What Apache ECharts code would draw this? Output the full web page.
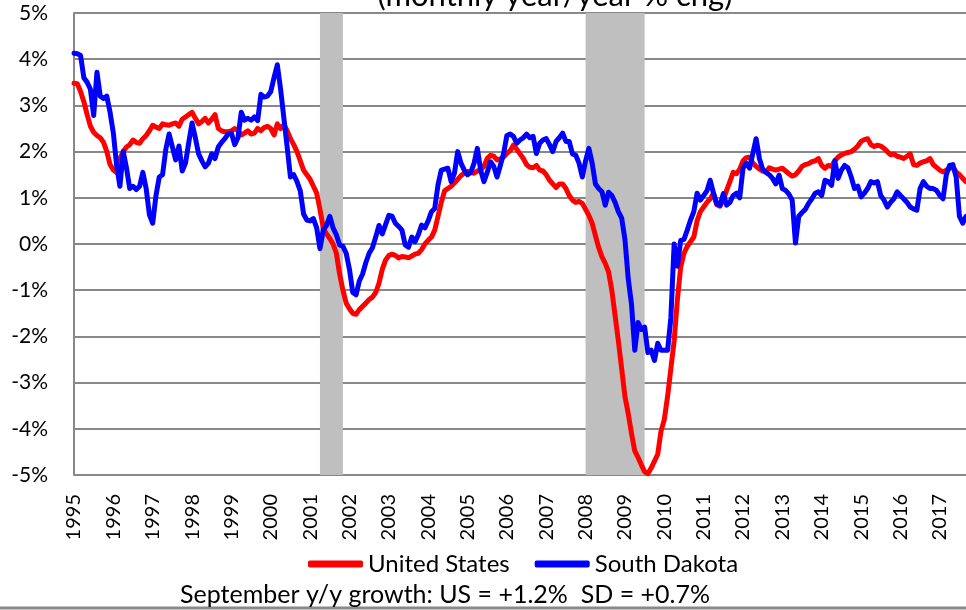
<!DOCTYPE html>
<html>
<head>
<meta charset="utf-8">
<script src="https://cdn.jsdelivr.net/npm/echarts@6/dist/echarts.min.js"></script>
<style>
  html, body { margin: 0; padding: 0; background: #ffffff; }
  #chart { width: 966px; height: 610px; }
</style>
</head>
<body>
<div id="chart"></div>
<script>
// monthly y/y % change, Jan 1995 .. Sep 2017
var startYear = 1995;
var usValues = [
  3.48, 3.47, 3.30, 3.08, 2.80, 2.55, 2.42, 2.35, 2.30, 2.20, 2.00, 1.72, // 1995
  1.60, 1.55, 1.85, 2.00, 2.10, 2.15, 2.25, 2.20, 2.18, 2.28, 2.35, 2.45, // 1996
  2.57, 2.53, 2.50, 2.60, 2.58, 2.57, 2.60, 2.62, 2.55, 2.70, 2.75, 2.80, // 1997
  2.85, 2.72, 2.60, 2.65, 2.72, 2.62, 2.70, 2.80, 2.50, 2.45, 2.43, 2.43, // 1998
  2.45, 2.50, 2.45, 2.36, 2.40, 2.45, 2.38, 2.40, 2.50, 2.45, 2.52, 2.55, // 1999
  2.50, 2.36, 2.60, 2.50, 2.58, 2.45, 2.28, 2.15, 2.00, 1.80, 1.60, 1.50, // 2000
  1.40, 1.25, 1.10, 0.75, 0.35, 0.22, 0.12, 0.00, -0.20, -0.65, -1.00, -1.28, // 2001
  -1.40, -1.50, -1.52, -1.42, -1.35, -1.28, -1.20, -1.15, -1.05, -0.85, -0.55, -0.35, // 2002
  -0.25, -0.22, -0.25, -0.30, -0.27, -0.28, -0.30, -0.26, -0.22, -0.20, -0.12, 0.00, // 2003
  0.08, 0.15, 0.30, 0.60, 0.90, 1.15, 1.20, 1.25, 1.32, 1.40, 1.48, 1.53, // 2004
  1.57, 1.55, 1.53, 1.58, 1.60, 1.68, 1.85, 1.92, 1.90, 1.82, 1.84, 1.88, // 2005
  1.96, 2.02, 2.14, 2.05, 1.95, 1.85, 1.72, 1.66, 1.65, 1.70, 1.60, 1.58, // 2006
  1.50, 1.38, 1.30, 1.22, 1.30, 1.30, 1.20, 1.05, 0.95, 0.90, 0.92, 0.88, // 2007
  0.75, 0.62, 0.45, 0.18, -0.08, -0.28, -0.42, -0.60, -1.00, -1.55, -2.10, -2.70, // 2008
  -3.30, -3.67, -4.10, -4.48, -4.62, -4.78, -4.93, -4.97, -4.85, -4.70, -4.55, -4.05, // 2009
  -3.80, -3.30, -2.70, -2.10, -1.20, -0.50, -0.20, -0.05, 0.05, 0.15, 0.50, 0.70, // 2010
  0.80, 0.90, 0.98, 1.10, 0.85, 0.82, 0.95, 1.16, 1.35, 1.55, 1.52, 1.62, // 2011
  1.80, 1.87, 1.88, 1.75, 1.68, 1.62, 1.58, 1.56, 1.65, 1.62, 1.60, 1.62, // 2012
  1.64, 1.58, 1.52, 1.47, 1.50, 1.58, 1.68, 1.72, 1.74, 1.78, 1.80, 1.85, // 2013
  1.70, 1.64, 1.70, 1.68, 1.80, 1.88, 1.93, 1.96, 1.98, 2.00, 2.05, 2.12, // 2014
  2.22, 2.26, 2.28, 2.15, 2.11, 2.14, 2.12, 2.07, 2.00, 1.93, 1.95, 1.90, // 2015
  1.88, 1.85, 1.90, 1.95, 1.72, 1.70, 1.75, 1.78, 1.80, 1.85, 1.72, 1.66, // 2016
  1.60, 1.56, 1.60, 1.64, 1.66, 1.56, 1.50, 1.42, 1.35                    // 2017
];
var sdValues = [
  4.13, 4.12, 4.08, 3.60, 3.50, 3.35, 2.78, 3.72, 3.20, 3.15, 3.20, 2.85, // 1995
  2.40, 1.70, 1.25, 2.00, 1.65, 1.20, 1.25, 1.18, 1.25, 1.55, 1.20, 0.63, // 1996
  0.45, 1.05, 1.45, 1.50, 2.05, 2.38, 2.10, 1.82, 2.12, 1.58, 1.75, 2.20, // 1997
  2.62, 2.30, 1.95, 1.80, 1.67, 1.75, 1.95, 1.85, 2.10, 2.20, 2.28, 2.38, // 1998
  2.40, 2.15, 2.30, 2.85, 2.68, 2.72, 2.68, 2.75, 2.67, 3.24, 3.18, 3.20, // 1999
  3.30, 3.60, 3.88, 3.35, 2.72, 2.10, 1.45, 1.50, 1.35, 1.15, 0.65, 0.52, // 2000
  0.50, 0.55, 0.35, -0.10, 0.30, 0.40, 0.60, 0.35, 0.20, -0.02, -0.05, -0.20, // 2001
  -0.55, -1.05, -1.10, -0.80, -0.65, -0.40, -0.20, -0.08, 0.15, 0.40, 0.22, 0.42, // 2002
  0.62, 0.60, 0.45, 0.38, 0.30, -0.02, -0.07, 0.15, 0.05, 0.20, 0.41, 0.35, // 2003
  0.50, 0.70, 0.77, 1.28, 1.60, 1.62, 1.64, 1.35, 1.53, 2.00, 1.75, 1.60, // 2004
  1.50, 1.55, 1.75, 2.07, 1.60, 1.35, 1.55, 1.78, 1.68, 1.45, 1.70, 1.96, // 2005
  2.35, 2.38, 2.33, 2.18, 2.25, 2.30, 2.38, 2.30, 2.33, 1.96, 2.18, 2.25, // 2006
  2.28, 2.15, 2.00, 2.22, 2.30, 2.40, 2.22, 2.22, 1.95, 1.92, 1.75, 1.45, // 2007
  1.80, 2.07, 1.75, 1.30, 1.20, 1.13, 0.84, 1.12, 1.05, 0.90, 0.70, 0.56, // 2008
  0.10, -0.75, -1.30, -2.30, -1.70, -1.85, -1.80, -2.35, -2.30, -2.52, -2.15, -2.30, // 2009
  -2.30, -2.30, -1.60, 0.00, -0.48, 0.08, 0.10, 0.30, 0.52, 0.70, 1.10, 0.95, // 2010
  1.05, 1.15, 1.38, 1.10, 0.87, 0.84, 1.09, 0.84, 0.90, 1.05, 1.10, 1.00, // 2011
  1.64, 1.75, 1.64, 1.96, 2.28, 1.85, 1.62, 1.55, 1.50, 1.42, 1.30, 1.49, // 2012
  1.20, 1.16, 1.08, 0.95, 0.02, 0.60, 0.68, 0.75, 0.88, 0.98, 1.10, 1.13, // 2013
  1.05, 1.38, 1.35, 1.27, 1.80, 1.42, 1.60, 1.70, 1.65, 1.45, 1.20, 1.25, // 2014
  1.02, 1.10, 1.20, 1.35, 1.32, 1.35, 1.05, 0.95, 0.80, 0.90, 0.98, 1.13, // 2015
  1.05, 0.98, 0.90, 0.80, 0.76, 0.73, 1.20, 1.35, 1.25, 1.20, 1.20, 1.16, // 2016
  1.05, 0.98, 1.50, 1.70, 1.72, 1.45, 0.60, 0.45, 0.60                    // 2017
];
// recession shading (first month, last month)
var recessions = [
  ['2001-04', '2001-11'],
  ['2008-01', '2009-07']
];
var seriesNames = ['United States', 'South Dakota'];
var titleText = '(monthly year/year % chg)';
var footText = 'September y/y growth: US = +1.2%  SD = +0.7%';

// month categories
var months = [];
for (var i = 0; i < usValues.length; i++) {
  var y = startYear + Math.floor(i / 12);
  var m = (i % 12) + 1;
  months.push(y + '-' + (m < 10 ? '0' + m : m));
}

var font = 'Lato, "Liberation Sans", sans-serif';
var myChart = echarts.init(document.getElementById('chart'));
var option = {
  backgroundColor: '#ffffff',
  animation: false,
  title: [
    {
      text: titleText,
      left: 550,
      textAlign: 'center',
      top: -25,
      textStyle: { fontFamily: font, fontWeight: 'normal', fontSize: 31, color: '#000' }
    },
    {
      text: footText,
      left: 175,
      top: 577,
      textStyle: { fontFamily: font, fontWeight: 'normal', fontSize: 25, color: '#000' }
    }
  ],
  legend: {
    left: 303,
    top: 547,
    icon: 'roundRect',
    itemWidth: 55,
    itemHeight: 7,
    itemGap: 25,
    textStyle: { fontFamily: font, fontSize: 24, color: '#000' },
    data: seriesNames
  },
  grid: { left: 74, right: 0, top: 13, bottom: 135 },
  xAxis: {
    type: 'category',
    boundaryGap: false,
    data: months,
    axisLine: { lineStyle: { color: '#888', width: 2 } },
    axisTick: { show: false },
    axisLabel: {
      interval: function (idx) { return idx % 12 === 0; },
      formatter: function (v) { return v.slice(0, 4); },
      rotate: 90,
      margin: 19,
      fontFamily: font,
      fontSize: 20,
      color: '#000'
    },
    splitLine: { show: false }
  },
  yAxis: {
    type: 'value',
    min: -5,
    max: 5,
    interval: 1,
    axisLine: { show: true, lineStyle: { color: '#888', width: 2 } },
    axisTick: { show: false },
    axisLabel: {
      formatter: '{value}%',
      margin: 26,
      fontFamily: font,
      fontSize: 21,
      color: '#000'
    },
    splitLine: { lineStyle: { color: '#888', width: 2 } }
  },
  series: [
    {
      name: seriesNames[0],
      type: 'line',
      data: usValues,
      showSymbol: false,
      itemStyle: { color: '#ff0000' },
      lineStyle: { color: '#ff0000', width: 5, cap: 'round', join: 'round' },
      markArea: {
        silent: true,
        itemStyle: { color: '#bfbfbf' },
        data: recessions.map(function (r) {
          return [{ xAxis: r[0] }, { xAxis: r[1] }];
        })
      }
    },
    {
      name: seriesNames[1],
      type: 'line',
      data: sdValues,
      showSymbol: false,
      itemStyle: { color: '#0000ff' },
      lineStyle: { color: '#0000ff', width: 5, cap: 'round', join: 'round' }
    }
  ],
  graphic: [
    {
      type: 'line',
      shape: { x1: 0, y1: 608, x2: 966, y2: 608 },
      style: { stroke: '#888', lineWidth: 3 }
    }
  ]
};
myChart.setOption(option);
window.addEventListener('resize', function () {
  myChart.resize();
});
</script>
</body>
</html>
